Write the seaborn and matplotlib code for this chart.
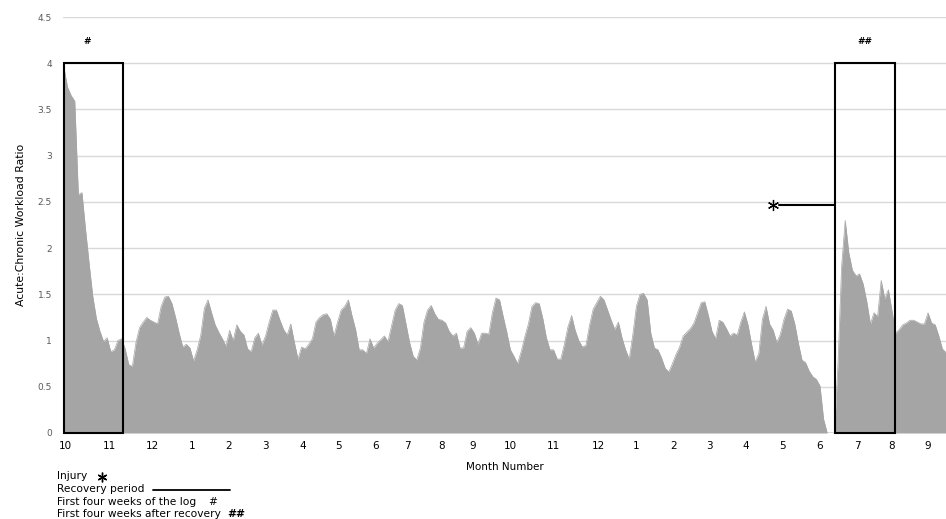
import numpy as np
import pandas as pd
import matplotlib
matplotlib.use("Agg")
import matplotlib.pyplot as plt
from matplotlib.patches import Rectangle
from matplotlib.lines import Line2D
import seaborn as sns

# Acute:chronic workload ratio, one reading every 3 days
acwr = [
    3.95, 3.74, 3.65, 3.59, 2.58, 2.60, 2.20, 1.83, 1.48, 1.24,
    1.10, 0.99, 1.03, 0.88, 0.90, 1.00, 1.02, 0.91, 0.74, 0.72,
    0.98, 1.14, 1.20, 1.25, 1.22, 1.20, 1.18, 1.37, 1.47, 1.48,
    1.40, 1.25, 1.08, 0.93, 0.96, 0.92, 0.78, 0.90, 1.06, 1.35,
    1.44, 1.30, 1.17, 1.09, 1.02, 0.94, 1.11, 1.00, 1.17, 1.10,
    1.06, 0.91, 0.88, 1.03, 1.08, 0.95, 1.05, 1.20, 1.33, 1.33,
    1.22, 1.12, 1.06, 1.18, 0.98, 0.80, 0.93, 0.91, 0.96, 1.02,
    1.20, 1.25, 1.28, 1.29, 1.23, 1.05, 1.20, 1.33, 1.37, 1.44,
    1.27, 1.12, 0.90, 0.90, 0.86, 1.02, 0.92, 0.97, 1.01, 1.05,
    0.99, 1.16, 1.33, 1.40, 1.38, 1.18, 0.98, 0.83, 0.79, 0.92,
    1.20, 1.33, 1.38, 1.29, 1.23, 1.22, 1.19, 1.10, 1.05, 1.08,
    0.92, 0.92, 1.10, 1.14, 1.08, 0.96, 1.08, 1.08, 1.07, 1.30,
    1.46, 1.44, 1.26, 1.09, 0.90, 0.83, 0.75, 0.88, 1.04, 1.18,
    1.37, 1.41, 1.40, 1.24, 1.03, 0.90, 0.90, 0.80, 0.80, 0.96,
    1.15, 1.27, 1.11, 1.00, 0.93, 0.95, 1.17, 1.34, 1.41, 1.48,
    1.44, 1.33, 1.22, 1.12, 1.20, 1.03, 0.90, 0.80, 1.06, 1.37,
    1.50, 1.51, 1.44, 1.08, 0.92, 0.90, 0.81, 0.70, 0.66, 0.75,
    0.85, 0.93, 1.05, 1.09, 1.13, 1.19, 1.30, 1.41, 1.42, 1.27,
    1.10, 1.02, 1.22, 1.20, 1.13, 1.05, 1.08, 1.06, 1.20, 1.31,
    1.17, 0.96, 0.77, 0.86, 1.23, 1.37, 1.18, 1.11, 0.98, 1.07,
    1.23, 1.34, 1.32, 1.18, 0.97, 0.79, 0.76, 0.67, 0.61, 0.58,
    0.51, 0.15, 0.00, 0.00, 0.00, 0.75, 1.80, 2.30, 1.95, 1.76,
    1.70, 1.72, 1.61, 1.42, 1.18, 1.30, 1.26, 1.65, 1.45, 1.55,
    1.32, 1.08, 1.12, 1.17, 1.19, 1.22, 1.22, 1.20, 1.18, 1.18,
    1.30, 1.19, 1.17, 1.05, 0.91, 0.87,
]
sample_step_days = 3

month_tick_days = [1, 38, 74, 107, 137, 168, 199, 229, 260, 286, 315, 341,
                   372, 408, 445, 477, 508, 538, 568, 599, 630, 661, 690, 720]
month_labels = ["10", "11", "12", "1", "2", "3", "4", "5", "6", "7", "8", "9",
                "10", "11", "12", "1", "2", "3", "4", "5", "6", "7", "8", "9"]

y_ticks = [0, 0.5, 1, 1.5, 2, 2.5, 3, 3.5, 4, 4.5]
y_tick_labels = ["0", "0.5", "1", "1.5", "2", "2.5", "3", "3.5", "4", "4.5"]

# Highlighted windows: first four weeks of the log / after recovery
first_block = (0, 49.3)
return_block = (642.5, 692.5)
block_top = 4.0

# Injury and the recovery period that follows it
injury_day = 590.5
injury_level = 2.465
recovery_start_day = 596
recovery_end_day = 642.5

AREA_GREY = "#a5a5a5"

sns.set_theme(style="white")
plt.rcParams["font.family"] = ["DejaVu Sans"]

df = pd.DataFrame({
    "day": np.arange(len(acwr)) * sample_step_days,
    "acwr": acwr,
})

W, H = 946, 519
fig = plt.figure(figsize=(W / 100, H / 100), dpi=100)
ax = fig.add_axes([63 / W, (H - 433) / H, 883 / W, 416 / H])

ax.fill_between(df["day"], 0, df["acwr"], color=AREA_GREY, linewidth=0, zorder=2)
sns.lineplot(data=df, x="day", y="acwr", color=AREA_GREY, linewidth=0.5,
             ax=ax, zorder=2)

for x0, x1 in (first_block, return_block):
    ax.add_patch(Rectangle((x0, 0), x1 - x0, block_top, fill=False,
                           edgecolor="black", linewidth=1.5, zorder=4,
                           clip_on=False))

ax.plot([recovery_start_day, recovery_end_day], [injury_level, injury_level],
        color="black", linewidth=1.5, zorder=4)
ax.plot([injury_day], [injury_level], marker=(6, 2, 0), markersize=8,
        markeredgewidth=0.9, color="black", zorder=4)

ax.text((first_block[0] + first_block[1]) / 2 - 5, 4.23, "#", ha="center",
        va="center", fontsize=6.5, fontweight="bold", color="black")
ax.text((return_block[0] + return_block[1]) / 2, 4.23, "##", ha="center",
        va="center", fontsize=6.5, fontweight="bold", color="black")

ax.set_xlim(-0.8, 735)
ax.set_ylim(0, 4.5)
ax.set_yticks(y_ticks, y_tick_labels)
ax.set_xticks(month_tick_days, month_labels)
ax.yaxis.grid(True, color="#d9d9d9", linewidth=1.0)
ax.xaxis.grid(False)
ax.set_axisbelow(True)
for s in ax.spines.values():
    s.set_visible(False)
ax.tick_params(axis="x", length=0, pad=6, labelsize=7.5, labelcolor="black")
ax.tick_params(axis="y", length=0, pad=8, labelsize=6.5, labelcolor="#595959")

ax.set_xlabel("Month Number", fontsize=7.5, color="black", labelpad=8)
ax.set_ylabel("Acute:Chronic Workload Ratio", fontsize=7.8, color="black",
              labelpad=8)


def ftext(x, y, s, **kw):
    fig.text(x / W, 1 - y / H, s, va="center", color="black", **kw)


ftext(57, 476, "Injury", fontsize=7.7)
fig.add_artist(Line2D([102 / W], [1 - 477 / H], marker=(6, 2, 0), markersize=7,
                      markeredgewidth=1.0, color="black"))
ftext(57, 489, "Recovery period", fontsize=7.7)
fig.add_artist(Line2D([153 / W, 230 / W], [1 - 490 / H, 1 - 490 / H],
                      color="black", linewidth=1.3))
ftext(57, 502, "First four weeks of the log", fontsize=7.7)
ftext(208, 502, "#", fontsize=7.7)
ftext(227, 514, "##", fontsize=7.7, fontweight="bold")
ftext(57, 514, "First four weeks after recovery", fontsize=7.7)

fig.savefig("out.png", dpi=100)
